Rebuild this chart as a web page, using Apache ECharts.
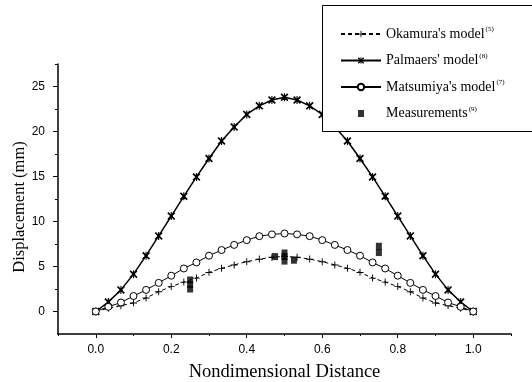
<!DOCTYPE html>
<html>
<head>
<meta charset="utf-8">
<script src="https://cdn.jsdelivr.net/npm/echarts@6/dist/echarts.min.js"></script>
<style>html,body{margin:0;padding:0;background:#fff}#c{width:532px;height:382px}</style>
</head>
<body>
<div id="c"></div>
<script>
var xs = [0,0.0333,0.0667,0.1,0.1333,0.1667,0.2,0.2333,0.2667,0.3,0.3333,0.3667,0.4,0.4333,0.4667,0.5,0.5333,0.5667,0.6,0.6333,0.6667,0.7,0.7333,0.7667,0.8,0.8333,0.8667,0.9,0.9333,0.9667,1.0];
var okamura = [0,0.35,0.65,0.96,1.5,2.2,2.77,3.27,3.72,4.35,4.8,5.18,5.54,5.82,6.03,6.12,6.03,5.82,5.54,5.18,4.8,4.35,3.72,3.27,2.77,2.2,1.5,0.96,0.65,0.35,0];
var palmaers = [0,1.05,2.4,4.15,6.2,8.4,10.6,12.8,14.95,17.0,18.95,20.5,21.9,22.85,23.5,23.8,23.5,22.85,21.9,20.5,18.95,17.0,14.95,12.8,10.6,8.4,6.2,4.15,2.4,1.05,0];
var matsumiya = [0,0.52,1.0,1.72,2.4,3.18,3.98,4.78,5.45,6.2,6.83,7.4,7.93,8.37,8.57,8.67,8.57,8.37,7.93,7.4,6.83,6.2,5.45,4.78,3.98,3.18,2.4,1.72,1.0,0.52,0];
var measX = [0.25,0.25,0.25,0.475,0.5,0.5,0.5,0.525,0.75,0.75];
var measY = [2.5,3.0,3.5,6.1,5.6,6.1,6.5,5.7,6.55,7.25];
var xTicks = [0,0.2,0.4,0.6,0.8,1.0];
var xMinorTicks = [-0.1,0.1,0.3,0.5,0.7,0.9,1.1];
var yTicks = [0,5,10,15,20,25];
var yMinorTicks = [2.5,7.5,12.5,17.5,22.5,27.5];
var names = ["Okamura's model","Palmaers' model","Matsumiya's model","Measurements"];
var refs = ["(5)","(8)","(7)","(9)"];

function pairs(a, b){ return a.map(function(v,i){ return [v, b[i]]; }); }

var plusPath = 'path://M0,4h9v1.2h-9zM3.9,0h1.2v9h-1.2z';
var starPath = 'path://M0,1.5L1.5,0L5,3.5L8.5,0L10,1.5L6.5,5L10,8.5L8.5,10L5,6.5L1.5,10L0,8.5L3.5,5ZM2.8,2.8h4.4v4.4h-4.4zM4.3,0h1.4v10h-1.4z';
var measIcon = 'path://M0,0L0.01,0ZM40,8L40.01,8ZM17,0.5h6v7h-6z';
var serif = 'Liberation Serif';
var sans = 'Liberation Sans';

var chart = echarts.init(document.getElementById('c'), null, {renderer:'canvas'});
chart.setOption({
  animation: false,
  backgroundColor: '#fff',
  grid: {left: 58, right: 21, top: 64, bottom: 48, containLabel: false, outerBoundsMode: 'none'},
  xAxis: [{
    type: 'value', min: -0.1, max: 1.1,
    name: 'Nondimensional Distance', nameLocation: 'middle', nameGap: 29,
    nameTextStyle: {fontFamily: serif, fontSize: 18.5, color: '#000'},
    axisLine: {onZero: false, lineStyle: {color: '#000', width: 1.5}},
    axisTick: {customValues: xTicks, length: 4, lineStyle: {color: '#000', width: 1}},
    axisLabel: {customValues: xTicks, margin: 10, fontFamily: sans, fontSize: 12, color: '#000',
      formatter: function(v){ return v.toFixed(1); }},
    splitLine: {show: false}
  },{
    type: 'value', min: -0.1, max: 1.1, position: 'bottom',
    axisLine: {show: false, onZero: false},
    axisTick: {customValues: xMinorTicks, length: 2, lineStyle: {color: '#000', width: 1}},
    axisLabel: {show: false},
    splitLine: {show: false}
  }],
  yAxis: [{
    type: 'value', min: -2.5, max: 27.5,
    name: 'Displacement (mm)', nameLocation: 'middle', nameGap: 30, nameMoveOverlap: false,
    nameTextStyle: {fontFamily: serif, fontSize: 16.5, color: '#000', padding: [0, 16, 0, 0]},
    axisLine: {onZero: false, lineStyle: {color: '#000', width: 1.5}},
    axisTick: {customValues: yTicks, length: 5, lineStyle: {color: '#000', width: 1}},
    axisLabel: {customValues: yTicks, margin: 13, fontFamily: sans, fontSize: 12, color: '#000'},
    splitLine: {show: false}
  },{
    type: 'value', min: -2.5, max: 27.5, position: 'left',
    axisLine: {show: false, onZero: false},
    axisTick: {customValues: yMinorTicks, length: 3, lineStyle: {color: '#000', width: 1}},
    axisLabel: {show: false},
    splitLine: {show: false}
  }],
  graphic: [{
    type: 'rect', z: 10, left: 322, top: 5,
    shape: {width: 230, height: 126},
    style: {fill: '#fff', stroke: '#000', lineWidth: 1}
  }],
  legend: {
    z: 20, orient: 'vertical', left: 340, top: 26, padding: 0,
    itemWidth: 40, itemHeight: 8, itemGap: 11.5,
    data: [
      {name: names[0]},
      {name: names[1]},
      {name: names[2]},
      {name: names[3], icon: measIcon}
    ],
    formatter: function(n){ return '{a|' + n + '}{s|' + refs[names.indexOf(n)] + '}'; },
    textStyle: {
      color: '#000',
      rich: {
        a: {fontFamily: serif, fontSize: 14, color: '#000', lineHeight: 16},
        s: {fontFamily: serif, fontSize: 7, color: '#000', lineHeight: 8, verticalAlign: 'top', padding: [0, 0, 8, 1]}
      }
    }
  },
  series: [{
    name: names[0], type: 'line', data: pairs(xs, okamura),
    symbol: plusPath, symbolSize: 7, showAllSymbol: true,
    lineStyle: {color: '#000', width: 1, type: [4, 3]},
    itemStyle: {color: '#000', borderWidth: 0}, z: 3
  },{
    name: names[1], type: 'line', data: pairs(xs, palmaers),
    symbol: starPath, symbolSize: 8, showAllSymbol: true,
    lineStyle: {color: '#000', width: 1.5},
    itemStyle: {color: '#000', borderWidth: 0}, z: 3
  },{
    name: names[2], type: 'line', data: pairs(xs, matsumiya),
    symbol: 'circle', symbolSize: 7, showAllSymbol: true,
    lineStyle: {color: '#000', width: 1},
    itemStyle: {color: '#fff', borderColor: '#000', borderWidth: 1}, z: 4
  },{
    name: names[3], type: 'scatter', data: pairs(measX, measY),
    symbol: 'rect', symbolSize: [6, 7],
    itemStyle: {color: '#000'}, z: 5
  }]
});
</script>
</body>
</html>
